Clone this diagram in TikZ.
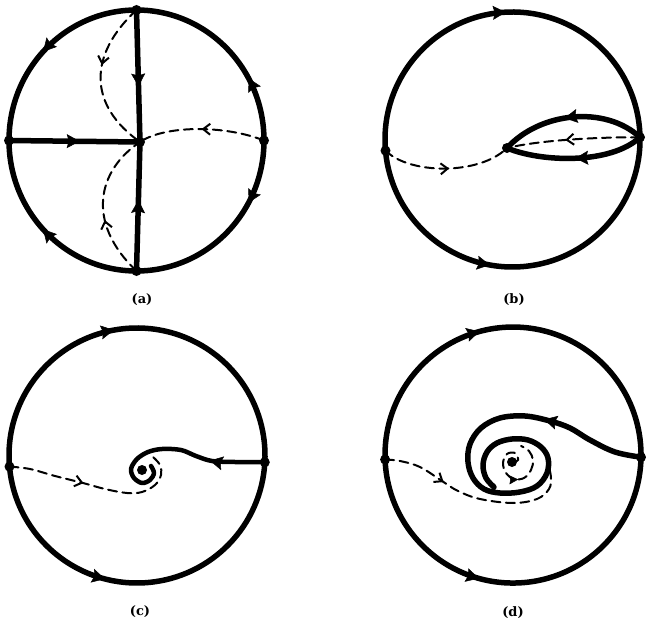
\documentclass[tikz,border=0pt]{standalone}
\usepackage{fontspec}
\newfontfamily\labfont{DejaVu Serif}
\usetikzlibrary{arrows.meta,decorations.markings}
\tikzset{
  solidline/.style={line width=5.5pt, line cap=round, line join=round},
  dashline/.style={line width=2pt, dash pattern=on 9pt off 5.5pt, line cap=round},
  farrowat/.style={decoration={markings, mark=at position #1 with {\arrow{Stealth[length=13pt,width=14pt,inset=2pt,line width=0.5pt]}}}, postaction={decorate}},
  darrowat/.style={decoration={markings, mark=at position #1 with {\arrow[solid]{Straight Barb[length=7pt,width=11pt]}}}, postaction={decorate}},
  sarrowat/.style={decoration={markings, mark=at position #1 with {\arrow[solid]{Stealth[length=9pt,width=9pt,inset=1pt,line width=0.5pt]}}}, postaction={decorate}},
  lab/.style={font=\labfont\bfseries\fontsize{13}{16}\selectfont, inner sep=0pt},
}
\begin{document}
\begin{tikzpicture}[x=1pt,y=-1pt]
\useasboundingbox (0,0) rectangle (646,626);
% ---------- (a)
\coordinate (aT) at (136.5,10);
\coordinate (aL) at (9,140.5);
\coordinate (aB) at (136.5,271);
\coordinate (aR) at (264,140.5);
\coordinate (aC) at (140,142);
\draw[solidline, farrowat=0.52] (aT) arc[start angle=-90,end angle=-180,x radius=127.5,y radius=130.5];
\draw[solidline, farrowat=0.52] (aB) arc[start angle=90,end angle=180,x radius=127.5,y radius=130.5];
\draw[solidline, farrowat=0.32] (aR) arc[start angle=0,end angle=-90,x radius=127.5,y radius=130.5];
\draw[solidline, farrowat=0.32] (aR) arc[start angle=0,end angle=90,x radius=127.5,y radius=130.5];
\draw[solidline, farrowat=0.58] (aT) -- (aC);
\draw[solidline, farrowat=0.55] (aB) -- (aC);
\draw[solidline, farrowat=0.54] (aL) -- (aC);
\draw[dashline, darrowat=0.5] (aR) .. controls (225,125) and (165,125) .. (aC);
\draw[dashline, darrowat=0.42] (aT) .. controls (88,55) and (88,105) .. (aC);
\draw[dashline, darrowat=0.4] (aB) .. controls (85,222) and (98,170) .. (aC);
% ---------- (b)
\coordinate (bL) at (385.5,150.6);
\coordinate (bR) at (640,137.3);
\coordinate (bI) at (507,148);
\draw[solidline, farrowat=0.5] (bL) arc[start angle=-185,end angle=-1,radius=127.5];
\draw[solidline, farrowat=0.43] (bL) arc[start angle=-185,end angle=-359,radius=127.5];
\draw[solidline, farrowat=0.55] (bR) .. controls (605,105) and (540,112) .. (bI);
\draw[solidline, farrowat=0.5] (bR) .. controls (610,165) and (540,162) .. (bI);
\draw[dashline, darrowat=0.56] (bR) .. controls (600,137) and (540,140) .. (bI);
\draw[dashline, darrowat=0.52] (bL) .. controls (410,175) and (480,175) .. (bI);
% ---------- (c)
\coordinate (cL) at (9.5,466.6);
\coordinate (cR) at (264.8,462.2);
\coordinate (cC) at (142,470);
\draw[solidline, farrowat=0.45] (cL) arc[start angle=-185,end angle=3,x radius=128,y radius=127.5];
\draw[solidline, farrowat=0.41] (cL) arc[start angle=-185,end angle=-357,x radius=128,y radius=127.5];
\draw[solidline, line width=4.5pt, farrowat=55pt] plot[smooth, tension=0.55] coordinates {(cR) (235,462) (212,461) (196,456) (181,450) (162,449) (148,452) (137,459) (131,469) (134,478) (142,483) (150,480) (154,473) (151,466)};
\draw[dashline, darrowat=76pt] plot[smooth, tension=0.6] coordinates {(cL) (30,469) (55,476) (83,483) (105,489) (127,493) (142,492) (155,485) (161,475) (160,465) (153,457)};
% ---------- (d)
\coordinate (dL) at (385.1,459.5);
\coordinate (dR) at (641,457.2);
\coordinate (dC) at (512,462);
\draw[solidline, farrowat=0.42] (dL) arc[start angle=-182,end angle=1,radius=128];
\draw[solidline, farrowat=0.41] (dL) arc[start angle=-182,end angle=-359,radius=128];
\draw[solidline, farrowat=105pt] plot[smooth, tension=0.6] coordinates {(dR) (615,452) (590,440) (570,428) (550,421) (525,416) (500,418) (481,428) (470,444) (468,462) (473,478) (484,489) (500,493) (520,492) (537,486) (547,473) (548,458) (541,447) (528,440) (512,439) (497,443) (487,452) (483,465) (486,478) (494,487)};
\draw[dashline, darrowat=64pt] plot[smooth, tension=0.6] coordinates {(dL) (400,461) (420,467) (442,481) (458,491) (480,499) (513,503) (537,499) (549,489) (551,478) (549,467)};
\draw[dashline, sarrowat=58pt] plot[smooth, tension=0.6] coordinates {(dC) (518,460) (515,453) (507,454) (503,463) (506,473) (514,479) (524,478) (531,470) (533,460) (529,451) (521,446)};
% ---------- dots
\foreach \p in {aT,aL,aB,aR,aC,bL,bR,bI,cL,cR,cC,dL,dR,dC}
  \fill (\p) circle[radius=5pt];
% ---------- labels
\node[lab] (la) at (142,300) {(a)};
\node[lab] (lb) at (514,300) {(b)};
\node[lab] (lc) at (140,612) {(c)};
\node[lab] (ld) at (513,613) {(d)};
\end{tikzpicture}
\end{document}
